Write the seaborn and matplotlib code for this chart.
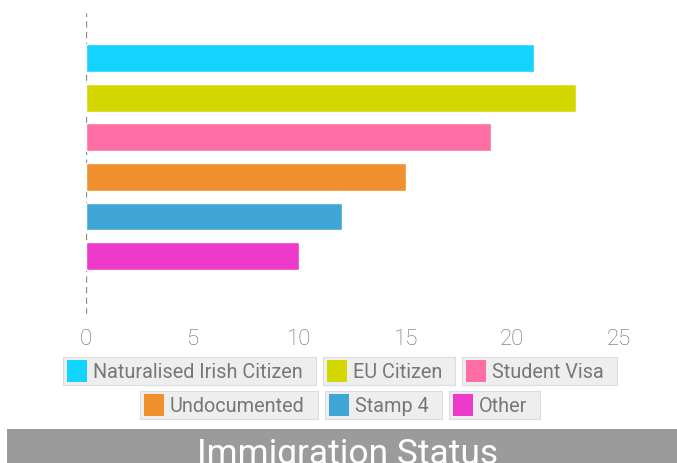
import matplotlib
matplotlib.use("Agg")
import matplotlib.pyplot as plt
import seaborn as sns
import pandas as pd
from matplotlib.patches import Rectangle

# ---- data ----
categories = ["Naturalised Irish Citizen", "EU Citizen", "Student Visa",
              "Undocumented", "Stamp 4", "Other"]
values = [21, 23, 19, 15, 12, 10]
colors = ["#13D3FF", "#D4D700", "#FF6FA6", "#F0902F", "#3FA6D6", "#EE3ACB"]
xticks = [0, 5, 10, 15, 20, 25]
legend_rows = [[0, 1, 2], [3, 4, 5]]
title = "Immigration Status"

sns.set_theme(style="white")
plt.rcParams["font.family"] = ["Roboto", "DejaVu Sans"]

W, H = 677, 464
fig = plt.figure(figsize=(W / 100, H / 100), dpi=100)
fig.patch.set_facecolor("white")


def fx(px):
    return px / W


def fy(py):
    return 1 - py / H


# axes: x 0..25 maps to px 86..619, y from 14 to 315 px
ax = fig.add_axes([fx(86), fy(315), fx(619 - 86), (315 - 14) / H])
df = pd.DataFrame({"cat": categories, "val": values})
sns.barplot(data=df, x="val", y="cat", hue="cat", palette=colors,
            orient="h", width=0.7, legend=False, ax=ax, saturation=1)
ax.set_xlim(0, 25)
ax.set_ylim(6.46, -1.14)
ax.set_xticks(xticks)
ax.set_xticklabels([str(t) for t in xticks])
ax.set_yticks([])
ax.set_xlabel("")
ax.set_ylabel("")
for s in ax.spines.values():
    s.set_visible(False)
ax.axvline(0, color="#8a8a8a", lw=0.9, ls=(0, (5, 3.5)), zorder=0)
ax.tick_params(axis="x", length=0, pad=10, labelsize=16, labelcolor="#6a6a6a")
for lab in ax.get_xticklabels():
    lab.set_fontweight("light")

# ---- legend (item boxes) ----
fig.canvas.draw()
renderer = fig.canvas.get_renderer()
leg_fs = 14.3
row_tops = [358, 392]
box_h = 28
sw = 20
pad_l, gap_sw, pad_r, gap_box = 4, 6, 13, 7
center_x = 340
for r, row in enumerate(legend_rows):
    texts = []
    widths = []
    for i in row:
        t = fig.text(0, 0, categories[i], fontsize=leg_fs, color="#777777",
                     fontweight="normal", va="center", ha="left", zorder=5)
        bb = t.get_window_extent(renderer)
        texts.append(t)
        widths.append(bb.width)
    box_ws = [pad_l + sw + gap_sw + w + pad_r for w in widths]
    total = sum(box_ws) + gap_box * (len(row) - 1)
    x = center_x - total / 2
    top = row_tops[r]
    for t, i, bw in zip(texts, row, box_ws):
        fig.patches.append(Rectangle((fx(x), fy(top + box_h)), fx(bw), box_h / H,
                                     transform=fig.transFigure, facecolor="#eeeeee",
                                     edgecolor="#dddddd", lw=0.8, zorder=2))
        fig.patches.append(Rectangle((fx(x + pad_l), fy(top + 3 + 22)), fx(sw), 22 / H,
                                     transform=fig.transFigure, facecolor=colors[i],
                                     edgecolor="none", zorder=3))
        t.set_position((fx(x + pad_l + sw + gap_sw), fy(top + box_h / 2 + 0.5)))
        x += bw + gap_box

# ---- title bar ----
fig.patches.append(Rectangle((fx(7), 0), fx(W - 7), (H - 430) / H,
                             transform=fig.transFigure, facecolor="#9b9b9b",
                             edgecolor="none", zorder=2))
fig.text(fx(348), fy(464), title, fontsize=25.5, color="white", fontweight="normal",
         ha="center", va="baseline", zorder=5)

fig.savefig("out.png", dpi=100, facecolor="white")
